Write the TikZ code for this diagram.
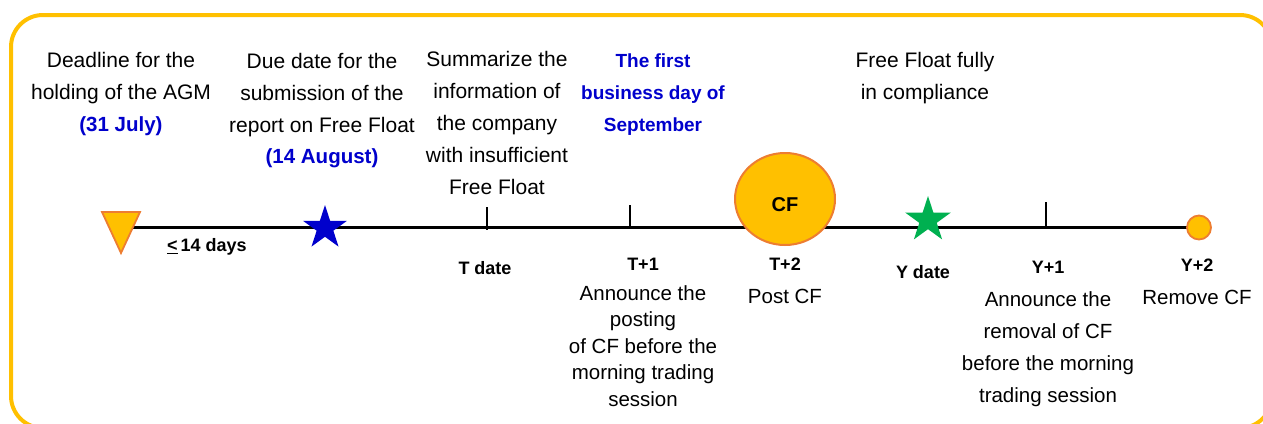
\documentclass[tikz,border=0pt]{standalone}
\usepackage{fontspec}
\setmainfont{Liberation Sans}
\usetikzlibrary{shapes.geometric}
\definecolor{frameY}{RGB}{255,192,0}
\definecolor{cfOrange}{RGB}{237,125,49}
\definecolor{dblue}{RGB}{0,0,204}
\definecolor{sgreen}{RGB}{0,176,80}
\begin{document}
\begin{tikzpicture}[x=1pt,y=-1pt,
  toptext/.style={align=center, font=\fontsize{21}{32}\selectfont, inner sep=0pt},
  bluetext/.style={align=center, text=dblue, font=\bfseries\fontsize{19}{32}\selectfont, inner sep=0pt},
  bluebig/.style={text=dblue, font=\bfseries\fontsize{20.5}{32}\selectfont, inner sep=0pt},
  lbl/.style={font=\bfseries\fontsize{18}{20}\selectfont, inner sep=0pt},
  bottext/.style={align=center, font=\fontsize{20.5}{26.5}\selectfont, inner sep=0pt},
  bottextw/.style={align=center, font=\fontsize{20.5}{32}\selectfont, inner sep=0pt},
  ticksty/.style={line width=2.5pt},
  axis/.style={line width=2.5pt},
  starsty/.style={star, star points=5, star point ratio=2.618, inner sep=0pt},
  markfill/.style={fill=frameY, draw=cfOrange}
]
\useasboundingbox (0,0) rectangle (1263,423);
\clip (0,0) rectangle (1263,423);
% frame
\draw[frameY, line width=4pt, rounded corners=32pt] (11,15) rectangle (1272,428);

% timeline coordinates
\coordinate (start) at (121,227.5);
\coordinate (y2c) at (1199,227.5);
\coordinate (tTop) at (487,207);
\coordinate (tBot) at (487,230);
\coordinate (t1Top) at (630,205);
\coordinate (t1Bot) at (630,229);
\coordinate (y1Top) at (1046,202);
\coordinate (y1Bot) at (1046,228);

\draw[axis] (start) -- (y2c);
\draw[ticksty] (tTop) -- (tBot);
\draw[ticksty] (t1Top) -- (t1Bot);
\draw[ticksty] (y1Top) -- (y1Bot);

% markers
\filldraw[markfill, line width=1.8pt] (102,212) -- (140,212) -- (121,253) -- cycle;
\node[starsty, fill=dblue, minimum size=46pt] (bstar) at (325,228) {};
\node[ellipse, markfill, line width=2pt, minimum width=100pt, minimum height=92pt,
      font=\bfseries\fontsize{20}{22}\selectfont, inner sep=0pt] (cf) at (785,199) {\raisebox{-12pt}[0pt][0pt]{CF}};
\node[starsty, fill=sgreen, minimum size=48pt] (gstar) at (928,220) {};
\node[circle, markfill, line width=1.8pt, minimum size=24pt, inner sep=0pt] (y2) at (y2c) {};

% top texts
\node[toptext] (agm) at (121,78) {Deadline for the\\holding of the AGM};
\node[bluebig] (jul) at (121,126) {(31 July)};
\node[toptext] (due) at (322,95) {Due date for the\\submission of the\\report on Free Float};
\node[bluebig] (aug) at (322,158) {(14 August)};
\node[toptext] (summ) at (497,123) {Summarize the\\information of\\the company\\with insufficient\\Free Float};
\node[bluetext] (sep) at (653,95) {The first\\business day of\\September};
\node[toptext] (ff) at (925,78) {Free Float fully\\in compliance};

% labels under axis
\node[lbl] (days) at (207,247) {\underline{<}\,14 days};
\node[lbl] (tdate) at (485,268) {T date};
\node[lbl] (t1) at (643,264) {T+1};
\node[bottext] (t1txt) at (643,346) {Announce the\\posting\\of CF before the\\morning trading\\session};
\node[lbl] (t2) at (785,264) {T+2};
\node[bottext] (t2txt) at (785,296) {Post CF};
\node[lbl] (ydate) at (923,272) {Y date};
\node[lbl] (y1) at (1048,267) {Y+1};
\node[bottextw] (y1txt) at (1048,349) {Announce the\\removal of CF\\before the morning\\trading session};
\node[lbl] (y2l) at (1197,265) {Y+2};
\node[bottext] (y2txt) at (1197,297) {Remove CF};
\end{tikzpicture}
\end{document}
